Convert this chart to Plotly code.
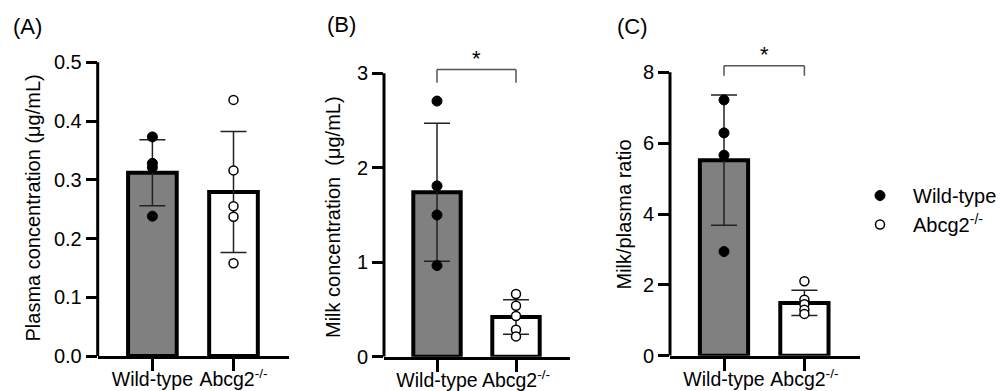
import plotly.graph_objects as go

# ---------------- data ----------------
categories = ["Wild-type", "Abcg2<sup>-/-</sup>"]
legend_names = ["Wild-type", "Abcg2<sup>-/-</sup>"]

plasma_mean = [0.312, 0.279]
plasma_sd = [0.056, 0.103]
plasma_wt = [0.373, 0.328, 0.321, 0.238]
plasma_ko = [0.436, 0.316, 0.255, 0.237, 0.158]

milk_mean = [1.74, 0.42]
milk_sd = [0.73, 0.183]
milk_wt = [2.706, 1.808, 1.50, 0.965]
milk_ko = [0.663, 0.539, 0.43, 0.285, 0.215]

ratio_mean = [5.52, 1.49]
ratio_sd = [1.84, 0.355]
ratio_wt = [7.22, 6.29, 5.66, 2.94]
ratio_ko = [2.10, 1.58, 1.45, 1.30, 1.18]

plasma_ticks = [0.0, 0.1, 0.2, 0.3, 0.4, 0.5]
milk_ticks = [0, 1, 2, 3]
ratio_ticks = [0, 2, 4, 6, 8]

y_titles = ["Plasma concentration (μg/mL)", "Milk concentration  (μg/mL)", "Milk/plasma ratio"]
panel_labels = ["(A)", "(B)", "(C)"]

# ---------------- layout geometry (pixels) ----------------
W, H = 1003, 391
FONT = "Liberation Sans, Arial, sans-serif"
geom = [
    # x_left, x_right, cat0_px, cat1_px, y_zero_px, y_top_px
    dict(xl=97.7, xr=289, c0=152.4, c1=233.5, yz=356.0, yt=62.3),
    dict(xl=384, xr=570, c0=437.0, c1=516.0, yz=356.7, yt=73.3),
    dict(xl=670, xr=860, c0=724.0, c1=804.4, yz=355.7, yt=72.3),
]
PLOT_TOP_PX = 36

panels = [
    dict(mean=plasma_mean, sd=plasma_sd, wt=plasma_wt, ko=plasma_ko, ticks=plasma_ticks, fmt=".1f"),
    dict(mean=milk_mean, sd=milk_sd, wt=milk_wt, ko=milk_ko, ticks=milk_ticks, fmt="d"),
    dict(mean=ratio_mean, sd=ratio_sd, wt=ratio_wt, ko=ratio_ko, ticks=ratio_ticks, fmt="d"),
]
title_pos = [(32.5, 208), (333, 217), (624, 214.5)]
label_pos = [(11, 27), (325, 25), (615, 27)]
# significance brackets: panel index -> (bar y, tip y)
brackets = {1: (3.04, 2.90), 2: (8.185, 7.90)}

fig = go.Figure()
shapes = []
annotations = []
layout_axes = {}

for i, (p, g) in enumerate(zip(panels, geom)):
    sfx = "" if i == 0 else str(i + 1)
    xa, ya = "x" + sfx, "y" + sfx
    top_val = p["ticks"][-1]
    scale = (g["yz"] - g["yt"]) / top_val
    y_range = [0, (g["yz"] - PLOT_TOP_PX) / scale]
    sp = g["c1"] - g["c0"]
    x_range = [-(g["c0"] - g["xl"]) / sp, (g["xr"] - g["c0"]) / sp]

    fig.add_trace(go.Bar(
        x=[0, 1], y=p["mean"], width=0.6,
        marker=dict(color=["#808080", "#ffffff"], line=dict(color="black", width=4)),
        error_y=dict(type="data", array=p["sd"], visible=True, color="#222222",
                     thickness=1.5, width=13),
        xaxis=xa, yaxis=ya, showlegend=False, hoverinfo="skip",
    ))
    fig.add_trace(go.Scatter(
        x=[0] * len(p["wt"]), y=p["wt"], mode="markers",
        marker=dict(symbol="circle", size=10, color="black", line=dict(color="black", width=1)),
        name=legend_names[0], legendgroup="wt", showlegend=(i == 0),
        xaxis=xa, yaxis=ya, cliponaxis=False,
    ))
    fig.add_trace(go.Scatter(
        x=[1] * len(p["ko"]), y=p["ko"], mode="markers",
        marker=dict(symbol="circle", size=9, color="white", line=dict(color="black", width=1.5)),
        name=legend_names[1], legendgroup="ko", showlegend=(i == 0),
        xaxis=xa, yaxis=ya, cliponaxis=False,
    ))

    layout_axes["xaxis" + sfx] = dict(
        domain=[g["xl"] / W, g["xr"] / W], range=x_range, anchor=ya,
        tickvals=[0, 1], ticktext=categories, ticks="outside", ticklen=12, tickwidth=3,
        tickcolor="black", showline=True, linewidth=3, linecolor="black",
        showgrid=False, zeroline=False, tickfont=dict(size=19.5, color="black", family=FONT),
        ticklabelstandoff=-8, automargin=False, fixedrange=True,
    )
    layout_axes["yaxis" + sfx] = dict(
        domain=[1 - g["yz"] / H, 1 - PLOT_TOP_PX / H], range=y_range, anchor=xa,
        tickvals=p["ticks"], tickformat=p["fmt"], ticks="outside", ticklen=11, tickwidth=3,
        tickcolor="black", showline=False, showgrid=False, zeroline=False,
        tickfont=dict(size=20, color="black", family=FONT), automargin=False, fixedrange=True,
    )
    # y axis line stops at the last tick
    shapes.append(dict(type="line", xref=xa + " domain", yref=ya, x0=0, x1=0,
                       y0=0, y1=top_val, line=dict(color="black", width=3)))

    tx, ty = title_pos[i]
    annotations.append(dict(text=y_titles[i], x=tx / W, y=1 - ty / H, xref="paper", yref="paper",
                            textangle=-90, showarrow=False, xanchor="center", yanchor="middle",
                            font=dict(size=20, color="black", family=FONT)))
    lx, ly = label_pos[i]
    annotations.append(dict(text=panel_labels[i], x=lx / W, y=1 - ly / H, xref="paper", yref="paper",
                            showarrow=False, xanchor="left", yanchor="middle",
                            font=dict(size=22, color="black", family=FONT)))

    if i in brackets:
        by, tip = brackets[i]
        for (x0, y0, x1, y1) in [(0, by, 1, by), (0, tip, 0, by), (1, tip, 1, by)]:
            shapes.append(dict(type="line", xref=xa, yref=ya, x0=x0, y0=y0, x1=x1, y1=y1,
                               line=dict(color="#555555", width=1.5)))
        annotations.append(dict(text="*", x=0.5, y=by, xref=xa, yref=ya, showarrow=False,
                                xanchor="center", yanchor="bottom", yshift=-3,
                                font=dict(size=22, color="black", family=FONT)))

fig.update_layout(
    width=W, height=H, autosize=False,
    margin=dict(l=0, r=0, t=0, b=0, pad=0, autoexpand=False),
    paper_bgcolor="white", plot_bgcolor="white",
    font=dict(family=FONT, color="black", size=20),
    shapes=shapes, annotations=annotations,
    legend=dict(x=847 / W, y=1 - 176 / H, xanchor="left", yanchor="top",
                font=dict(size=20, color="black", family=FONT), itemwidth=56,
                bgcolor="rgba(0,0,0,0)", borderwidth=0, tracegroupgap=0),
    bargap=0, showlegend=True,
    **layout_axes,
)

fig.write_html(
    "out.html",
    config={"displayModeBar": False, "staticPlot": True},
    post_script="document.body.style.margin='0';document.body.style.overflow='hidden';",
)
